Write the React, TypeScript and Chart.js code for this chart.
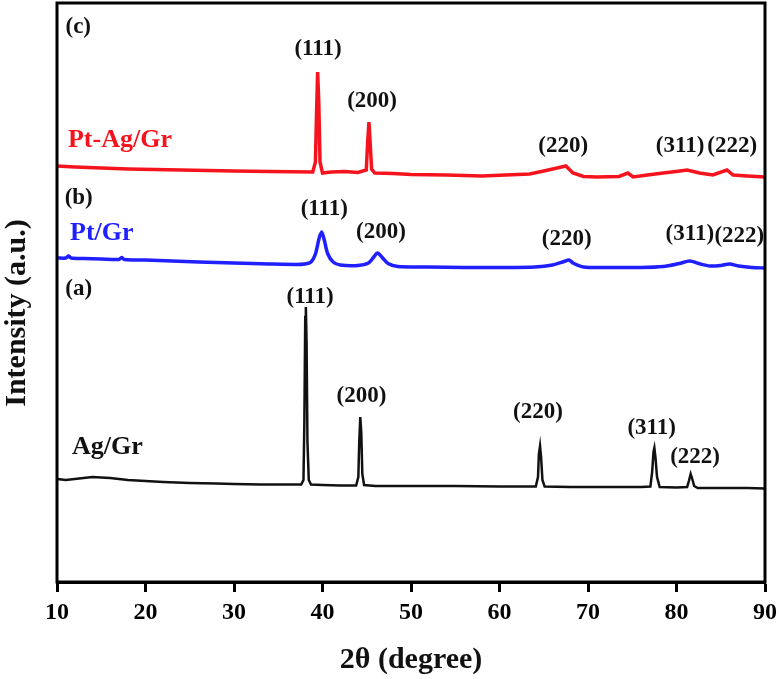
import React, { useEffect, useRef } from "react";
import { Chart, registerables } from "chart.js";

Chart.register(...registerables);

// 2θ values (degree) and intensities (a.u., stacked with offsets)
const agGrX = [10, 11, 12, 13, 14, 15, 16, 18, 20, 22, 25, 28, 30, 33, 36, 37.6, 37.85, 37.95, 38.05, 38.12, 38.2, 38.3, 38.45, 38.7, 40, 42, 43.8, 44.05, 44.15, 44.27, 44.38, 44.5, 44.7, 46, 50, 55, 60, 64.1, 64.35, 64.45, 64.58, 64.7, 64.85, 65.1, 68, 72, 76, 77.05, 77.25, 77.4, 77.5, 77.62, 77.8, 78.1, 80, 81.2, 81.4, 81.6, 81.75, 82, 82.4, 85, 88, 90];
const agGrY = [103, 102, 103, 104, 105, 104.5, 104, 102, 101, 100, 99, 98.5, 98, 97.5, 97.5, 97.5, 102, 160, 265, 275, 240, 140, 102, 97.5, 97, 96.5, 96.5, 105, 140, 165, 150, 108, 97, 96, 96, 96, 95.5, 95.5, 105, 128, 136, 125, 102, 95.5, 95, 95, 95, 95.5, 110, 130, 134, 125, 105, 95, 94.5, 95, 101, 108, 104, 96, 94, 94, 94, 93.5];

const ptGrX = [10, 11, 11.3, 11.6, 13, 15, 17, 17.3, 17.6, 20, 23, 26, 30, 34, 37, 38, 38.7, 39.2, 39.6, 39.9, 40.2, 40.6, 41.2, 42, 44, 45.2, 45.8, 46.2, 46.7, 47.4, 48.5, 52, 56, 60, 64, 66, 67.3, 67.85, 68.4, 69.5, 72, 76, 78.5, 80.3, 81.5, 82.5, 83.8, 85, 86, 87, 88.5, 90];
const ptGrY = [324, 324, 326, 324, 323.5, 323, 322.5, 324.5, 322.5, 322, 321, 320, 319, 318, 317.5, 318, 320, 328, 343, 350, 342, 328, 320, 317, 316.5, 319, 325, 329, 325, 318.5, 315.5, 315, 314.5, 314.5, 315, 317, 320.5, 322, 318.5, 315, 314.5, 314.5, 315.5, 318.5, 321, 318.5, 316, 316.5, 318, 316, 314.5, 314];

const ptAgGrX = [10, 12, 15, 18, 21, 24, 27, 30, 34, 38.9, 39.2, 39.33, 39.45, 39.58, 39.72, 40, 41, 42.5, 44, 44.95, 45.1, 45.25, 45.38, 45.55, 45.9, 48, 50, 54, 58, 63.4, 65, 66.5, 67.5, 68.3, 69.5, 71, 73.5, 74.5, 75.1, 76.7, 78.5, 80.4, 81.2, 82.6, 84.1, 85.7, 86.4, 88, 90];
const ptAgGrY = [416, 415, 414, 413, 412.5, 412, 411.5, 411, 410.5, 410, 420, 470, 510, 480, 420, 409, 410, 410.5, 409.5, 412, 440, 460, 440, 413, 409, 408.5, 407.5, 407, 406, 408, 411, 414, 416, 409, 405.5, 405, 405.5, 409, 405, 407, 409, 411, 412, 409, 407, 412, 407, 406, 405];

// annotation texts with their anchor in data coordinates (2θ, intensity)
const peakLabels = ["(111)", "(200)", "(220)", "(311)", "(222)"];
const agGrLabelX = [38.6, 44.4, 64.35, 77.2, 82.1];
const agGrLabelY = [285, 186, 170, 154, 125];
const ptGrLabelX = [40.2, 46.6, 67.6, 81.5, 87.1];
const ptGrLabelY = [373, 350, 343, 348, 346];
const ptAgGrLabelX = [39.5, 45.6, 67.2, 80.4, 86.3];
const ptAgGrLabelY = [533, 481, 436, 436, 436];

const seriesNames = ["Ag/Gr", "Pt/Gr", "Pt-Ag/Gr"];
const seriesNameX = [11.7, 11.47, 11.24];
const seriesNameY = [135, 349, 442];
const panelTags = ["(a)", "(b)", "(c)"];
const panelTagX = [12.45, 12.45, 12.4];
const panelTagY = [293, 384, 555];

const xTicks = [10, 20, 30, 40, 50, 60, 70, 80, 90];
const xTitle = "2θ (degree)";
const yTitle = "Intensity (a.u.)";

const BLACK = "#111111";
const BLUE = "#1f1fff";
const RED = "#f5141e";
const FONT = "'Liberation Serif', 'Times New Roman', serif";

const zip = (xs: number[], ys: number[]) => xs.map((x, i) => ({ x, y: ys[i] }));

const annotationPlugin = {
  id: "xrdAnnotations",
  afterDraw(chart: any) {
    const { ctx, chartArea, scales } = chart;
    const xs = scales.x;
    const ys = scales.y;
    ctx.save();
    // frame
    ctx.strokeStyle = "#000";
    ctx.lineWidth = 3;
    ctx.strokeRect(chartArea.left, chartArea.top, chartArea.right - chartArea.left, chartArea.bottom - chartArea.top);

    ctx.textBaseline = "middle";
    const drawSet = (lx: number[], ly: number[]) => {
      ctx.fillStyle = BLACK;
      ctx.font = `bold 23px ${FONT}`;
      ctx.textAlign = "center";
      peakLabels.forEach((t, i) => {
        ctx.fillText(t, xs.getPixelForValue(lx[i]), ys.getPixelForValue(ly[i]));
      });
    };
    drawSet(agGrLabelX, agGrLabelY);
    drawSet(ptGrLabelX, ptGrLabelY);
    drawSet(ptAgGrLabelX, ptAgGrLabelY);

    const nameColors = [BLACK, BLUE, RED];
    ctx.textAlign = "left";
    ctx.font = `bold 26px ${FONT}`;
    seriesNames.forEach((t, i) => {
      ctx.fillStyle = nameColors[i];
      ctx.fillText(t, xs.getPixelForValue(seriesNameX[i]), ys.getPixelForValue(seriesNameY[i]));
    });
    ctx.textAlign = "center";
    ctx.fillStyle = BLACK;
    ctx.font = `bold 23px ${FONT}`;
    panelTags.forEach((t, i) => {
      ctx.fillText(t, xs.getPixelForValue(panelTagX[i]), ys.getPixelForValue(panelTagY[i]));
    });

    // axis titles
    ctx.font = `bold 30px ${FONT}`;
    ctx.fillText(xTitle, (chartArea.left + chartArea.right) / 2, 660);
    ctx.translate(17, 313);
    ctx.rotate(-Math.PI / 2);
    ctx.fillText(yTitle, 0, 0);
    ctx.restore();
  },
};

export default function App() {
  const ref = useRef<HTMLCanvasElement | null>(null);
  useEffect(() => {
    if (!ref.current) return;
    const chart = new Chart(ref.current, {
      type: "line",
      data: {
        datasets: [
          { label: seriesNames[0], data: zip(agGrX, agGrY), borderColor: BLACK, borderWidth: 2.5, pointRadius: 0, tension: 0 },
          { label: seriesNames[1], data: zip(ptGrX, ptGrY), borderColor: BLUE, borderWidth: 3.5, pointRadius: 0, tension: 0.3 },
          { label: seriesNames[2], data: zip(ptAgGrX, ptAgGrY), borderColor: RED, borderWidth: 3.5, pointRadius: 0, tension: 0 },
        ],
      },
      options: {
        animation: false,
        responsive: false,
        layout: { padding: { left: 57, right: 14, top: 3, bottom: 0 } },
        plugins: { legend: { display: false }, tooltip: { enabled: false } },
        scales: {
          x: {
            type: "linear",
            min: 10,
            max: 90,
            afterBuildTicks: (scale: any) => {
              scale.ticks = xTicks.map((v) => ({ value: v }));
            },
            afterFit: (scale: any) => {
              scale.height = 97;
              scale.paddingLeft = 0;
              scale.paddingRight = 0;
            },
            border: { display: true, color: "#000", width: 3 },
            grid: { drawOnChartArea: false, drawTicks: true, tickLength: 10, tickWidth: 3, tickColor: "#000", color: "#000" },
            ticks: { color: "#000", padding: 6, maxRotation: 0, autoSkip: false, font: { family: FONT, size: 24, weight: "bold" } },
          },
          y: { type: "linear", min: 0, max: 579, display: false },
        },
      },
      plugins: [annotationPlugin],
    } as any);
    return () => chart.destroy();
  }, []);
  return (
    <div style={{ position: "fixed", left: 0, top: 0, width: 779, height: 679, background: "#fff" }}>
      <canvas ref={ref} width={779} height={679} style={{ width: 779, height: 679, display: "block" }} />
    </div>
  );
}
